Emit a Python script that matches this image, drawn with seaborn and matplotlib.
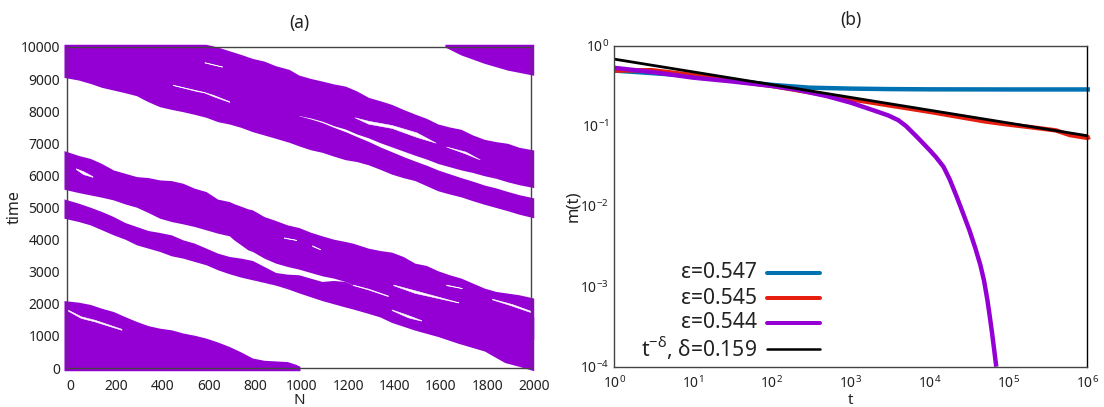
import matplotlib
matplotlib.use('Agg')
import matplotlib.pyplot as plt
from matplotlib.transforms import ScaledTranslation
import pandas as pd
import seaborn as sns

# (a) bandas del diagrama N vs time
top_n = [-13, 50, 100, 150, 200, 250, 300, 330, 350, 400, 450, 500, 550, 600, 650, 700, 750, 800, 850, 900, 958,
         1000, 1050, 1100, 1150, 1200, 1250, 1300, 1350, 1400, 1450, 1500, 1550, 1600, 1650, 1700, 1750, 1800, 1850, 1900, 1950, 2013]
top_hi = [10085, 10085, 10085, 10085, 10085, 10085, 10085, 10085, 10085, 10085, 10085, 10085, 10085, 10085, 9997, 9883, 9769, 9644, 9561, 9416, 9302,
          9126, 9022, 8939, 8850, 8783, 8630, 8431, 8327, 8213, 8057, 7912, 7778, 7601, 7508, 7435, 7259, 7124, 7052, 7000, 6875, 6792]
top_lo = [9053, 8970, 8866, 8742, 8659, 8576, 8483, 8368, 8296, 8140, 8057, 7985, 7902, 7809, 7674, 7601, 7497, 7363, 7259, 7155, 7031,
          7865, 7790, 7690, 7550, 7445, 7290, 7170, 7020, 6890, 6760, 6630, 6510, 6370, 6270, 6170, 6090, 5990, 5910, 5800, 5710, 5620]

low_n = [958, 1000, 1050, 1100, 1150, 1200, 1250, 1300, 1350, 1400, 1450, 1500, 1550, 1600, 1650, 1700, 1750, 1800, 1850, 1900, 1950, 2013]
low_hi = [7930, 7860, 7760, 7650, 7500, 7365, 7210, 7060, 6890, 6740, 6590, 6450, 6320, 6170, 6050, 5930, 5820, 5700, 5610, 5500, 5400, 5300]
low_lo = [7031, 6920, 6800, 6720, 6600, 6490, 6430, 6330, 6190, 6040, 5930, 5840, 5680, 5520, 5420, 5330, 5210, 5100, 5000, 4900, 4790, 4680]

corner_n = [1630, 1700, 1800, 1900, 2013]
corner_hi = [10085, 10085, 10085, 10085, 10085]
corner_lo = [10000, 9750, 9490, 9280, 9120]

mid_n = [-13, 50, 100, 150, 200, 250, 300, 350, 400, 450, 500, 550, 600, 650, 700, 720, 750, 780, 800, 850, 900, 950,
         1000, 1050, 1100, 1150, 1200, 1232, 1300, 1350, 1400, 1450, 1500, 1550, 1600, 1650, 1700, 1750, 1800, 1850, 1900, 1950, 2013]
mid_hi = [6772, 6620, 6530, 6370, 6170, 6066, 5963, 5932, 5859, 5838, 5755, 5600, 5496, 5260, 5185, 5120, 5040, 4960, 4926, 4718, 4594, 4459,
          4376, 4231, 4117, 4013, 3941, 3890, 3733, 3660, 3609, 3474, 3267, 3194, 3028, 2904, 2800, 2644, 2489, 2385, 2333, 2281, 2178]
mid_lo = [5569, 5465, 5392, 5320, 5237, 5112, 5009, 4843, 4666, 4563, 4490, 4407, 4304, 4200, 4117, 3992, 3837, 3681, 3630, 3422, 3267, 3163,
          3080, 2976, 2872, 2800, 2696, 2592, 2300, 2200, 2100, 2000, 1900, 1800, 1700, 1600, 1500, 1400, 1300, 1200, 1100, 1000, 900]

strip_n = [-13, 50, 100, 150, 200, 250, 300, 350, 400, 450, 500, 550, 600, 650, 700, 750, 800, 850, 900, 950,
           1000, 1050, 1100, 1150, 1200, 1232, 1300, 1350, 1400, 1450, 1500, 1600, 1687, 1800, 1888, 1950, 2013]
strip_hi = [5268, 5133, 5009, 4874, 4718, 4532, 4407, 4283, 4221, 4148, 3992, 3889, 3733, 3578, 3474, 3422, 3350, 3163, 2976, 2924,
            2904, 2800, 2696, 2727, 2696, 2592, 2437, 2400, 2350, 2300, 2250, 2100, 2000, 1900, 1800, 1700, 1600]
strip_lo = [4666, 4563, 4459, 4304, 4148, 4013, 3837, 3733, 3630, 3495, 3422, 3318, 3215, 3059, 2935, 2831, 2748, 2665, 2580, 2470,
            2340, 2220, 2100, 2000, 1900, 1840, 1700, 1590, 1420, 1300, 1180, 980, 770, 530, 170, 50, -85]

corner2_n = [-13, 50, 100, 150, 200, 250, 300, 350, 400, 450, 500, 550, 600, 650, 700, 750, 800, 850, 950, 985, 1005]
corner2_hi = [2100, 2050, 1980, 1860, 1760, 1600, 1450, 1320, 1240, 1190, 1090, 1020, 930, 810, 670, 500, 310, 240, 200, 120, 50]
corner2_lo = [-85] * 21

# huecos blancos dentro de las bandas
gap1_n = [1240, 1300, 1400, 1507, 1590]
gap1_hi = [7810, 7700, 7570, 7340, 7020]
gap1_lo = [7810, 7610, 7480, 7200, 7020]
gap2_n = [1635, 1719, 1780]
gap2_hi = [6900, 6740, 6500]
gap2_lo = [6900, 6680, 6500]
gap3_n = [38, 70, 110]
gap3_hi = [6220, 6130, 5975]
gap3_lo = [6200, 6040, 5955]
gap4_n = [456, 560, 590, 630, 700]
gap4_hi = [8825, 8650, 8600, 8510, 8310]
gap4_lo = [8815, 8625, 8590, 8470, 8290]
gap5_n = [593, 669]
gap5_hi = [9530, 9395]
gap5_lo = [9515, 9385]
gap6_n = [935, 989]
gap6_hi = [4070, 3995]
gap6_lo = [4055, 3985]
gap7_n = [1057, 1092]
gap7_hi = [3825, 3705]
gap7_lo = [3800, 3695]
gap8_n = [1407, 1500, 1688]
gap8_hi = [2600, 2420, 2050]
gap8_lo = [2580, 2340, 2040]
gap9_n = [1635, 1703]
gap9_hi = [2600, 2495]
gap9_lo = [2580, 2485]
gap10_n = [1400, 1470, 1528]
gap10_hi = [1825, 1650, 1490]
gap10_lo = [1805, 1580, 1475]
gap11_n = [1833, 1920, 2000]
gap11_hi = [2160, 1990, 1780]
gap11_lo = [2140, 1940, 1740]
gap12_n = [1232, 1300, 1384]
gap12_hi = [2600, 2470, 2260]
gap12_lo = [2585, 2445, 2240]
gap13_n = [0, 60, 120, 235]
gap13_hi = [1830, 1610, 1500, 1220]
gap13_lo = [1800, 1560, 1450, 1190]

yticks_a = [0, 1000, 2000, 3000, 4000, 5000, 6000, 7000, 8000, 9000, 10000]
xticks_a = [0, 200, 400, 600, 800, 1000, 1200, 1400, 1600, 1800, 2000]

# (b) m(t)
t_blue = [1, 10, 100, 300, 1000, 3000, 10000, 100000, 1000000, 1080000]
m_blue = [0.49, 0.42, 0.325, 0.30, 0.292, 0.288, 0.286, 0.285, 0.285, 0.285]
t_red = [1, 3, 10, 30, 100, 1000, 10000, 50000, 100000, 200000, 400000, 600000, 1000000, 1080000]
m_red = [0.49, 0.495, 0.43, 0.37, 0.315, 0.215, 0.15, 0.114, 0.104, 0.096, 0.088, 0.077, 0.071, 0.073]
t_purple = [1, 3, 10, 30, 100, 200, 500, 1000, 2000, 3000, 4000, 5000, 7000, 10000, 12000, 15000, 18000, 22000, 27000,
            32000, 38000, 44000, 49000, 54000, 58000, 62000, 66000, 70000]
m_purple = [0.53, 0.47, 0.40, 0.36, 0.315, 0.285, 0.235, 0.195, 0.155, 0.135, 0.118, 0.10, 0.072, 0.05, 0.041, 0.031, 0.0215, 0.0132, 0.0078,
            0.005, 0.003, 0.00185, 0.00118, 0.00068, 0.00042, 0.00026, 0.00016, 0.0001]
t_black = [1, 1000000]
m_black = [0.68, 0.0755]

sns.set_style('white')
plt.rcParams['font.family'] = ['Noto Sans', 'DejaVu Sans']
plt.rcParams['mathtext.default'] = 'regular'
plt.rcParams['text.color'] = '#222222'

violeta = '#9400d3'
W, H = 1104, 407
AW1, AH1 = 463.7, 321
AW2, AH2 = 473, 321
fig = plt.figure(figsize=(W / 100, H / 100), dpi=100)
ax1 = fig.add_axes([67 / W, 1 - 368 / H, AW1 / W, AH1 / H])
ax2 = fig.add_axes([614.3 / W, 1 - 366.7 / H, AW2 / W, AH2 / H])

for n, hi, lo in [(top_n, top_hi, top_lo),
                  (low_n, low_hi, low_lo),
                  (corner_n, corner_hi, corner_lo),
                  (mid_n, mid_hi, mid_lo),
                  (strip_n, strip_hi, strip_lo),
                  (corner2_n, corner2_hi, corner2_lo)]:
    ax1.fill_between(n, lo, hi, color=violeta, linewidth=0, clip_on=False, zorder=2)

for n, hi, lo in [(gap1_n, gap1_hi, gap1_lo), (gap2_n, gap2_hi, gap2_lo),
                  (gap3_n, gap3_hi, gap3_lo), (gap4_n, gap4_hi, gap4_lo),
                  (gap5_n, gap5_hi, gap5_lo), (gap6_n, gap6_hi, gap6_lo),
                  (gap7_n, gap7_hi, gap7_lo), (gap8_n, gap8_hi, gap8_lo),
                  (gap9_n, gap9_hi, gap9_lo), (gap10_n, gap10_hi, gap10_lo),
                  (gap11_n, gap11_hi, gap11_lo), (gap12_n, gap12_hi, gap12_lo),
                  (gap13_n, gap13_hi, gap13_lo)]:
    ax1.fill_between(n, lo, hi, color='white', linewidth=0.4, zorder=3)

ax1.set_xlim(0, 2000)
ax1.set_ylim(0, 10000)
ax1.set_xticks(xticks_a)
ax1.set_yticks(yticks_a)
ax1.tick_params(axis='both', direction='in', length=4, width=0.8, color='#444444', labelsize=10, labelcolor='#222222')
ax1.tick_params(axis='x', pad=8)
ax1.tick_params(axis='y', pad=5)
ax1.set_title('(a)', fontsize=12.5, pad=14)
ax1.set_xlabel('N', fontsize=11, color='#222222')
ax1.xaxis.set_label_coords(0.5, -32.5 / AH1)
ax1.xaxis.label.set_va('center')
ax1.set_ylabel('time', fontsize=11.5, color='#222222')
ax1.yaxis.label.set_va('center')
ax1.yaxis.set_label_coords(-52 / AW1, 0.5)
desplazar = ScaledTranslation(3 / 100, 0, fig.dpi_scale_trans)
for lab in ax1.get_xticklabels():
    lab.set_transform(lab.get_transform() + desplazar)

curvas = [(t_blue, m_blue, '#0072b2', 3.2, '\u03b5=0.547'),
          (t_red, m_red, '#e51e10', 3.2, '\u03b5=0.545'),
          (t_purple, m_purple, violeta, 3.2, '\u03b5=0.544'),
          (t_black, m_black, 'black', 2.0, 't$^{-\u03b4}$, \u03b4=0.159')]
filas_y = [93.7 / AH2, 68.7 / AH2, 43.7 / AH2, 18 / AH2]
for (t, m, col, lw, nombre), fila in zip(curvas, filas_y):
    tabla = pd.DataFrame({'t': t, 'm': m})
    sns.lineplot(data=tabla, x='t', y='m', ax=ax2, color=col, linewidth=lw,
                 estimator=None, sort=False, errorbar=None, legend=False)
    ax2.lines[-1].set_clip_on(False)
    ax2.lines[-1].set_solid_capstyle('butt')
    # leyenda armada a mano para que las filas queden parejas
    ax2.plot([152.7 / AW2, 205.7 / AW2], [fila, fila], transform=ax2.transAxes, color=col, linewidth=lw * 0.9)
    ax2.text(142.7 / AW2, fila, nombre, transform=ax2.transAxes, ha='right', va='center', fontsize=15.2, color='#222222')

ax2.set_xscale('log')
ax2.set_yscale('log')
ax2.set_xlim(1, 1e6)
ax2.set_ylim(1e-4, 1)
ax2.minorticks_off()
ax2.tick_params(axis='both', direction='in', length=4, width=0.8, color='#444444', labelsize=10, labelcolor='#222222')
ax2.tick_params(axis='x', pad=6)
ax2.tick_params(axis='y', pad=4)
ax2.set_title('(b)', fontsize=12.5, pad=15)
ax2.set_xlabel('t', fontsize=11, color='#222222')
ax2.xaxis.set_label_coords(0.5, -33.5 / AH2)
ax2.xaxis.label.set_va('center')
ax2.set_ylabel('m(t)', fontsize=12, color='#222222')
ax2.yaxis.label.set_va('center')
ax2.yaxis.set_label_coords(-41.5 / AW2, 0.5)

for ax in [ax1, ax2]:
    for lado, sp in ax.spines.items():
        sp.set_color('#444444')
        sp.set_linewidth(1.0)
        sp.set_zorder(5)
ax2.spines['right'].set_color('black')

fig.savefig('out.png', dpi=100)
